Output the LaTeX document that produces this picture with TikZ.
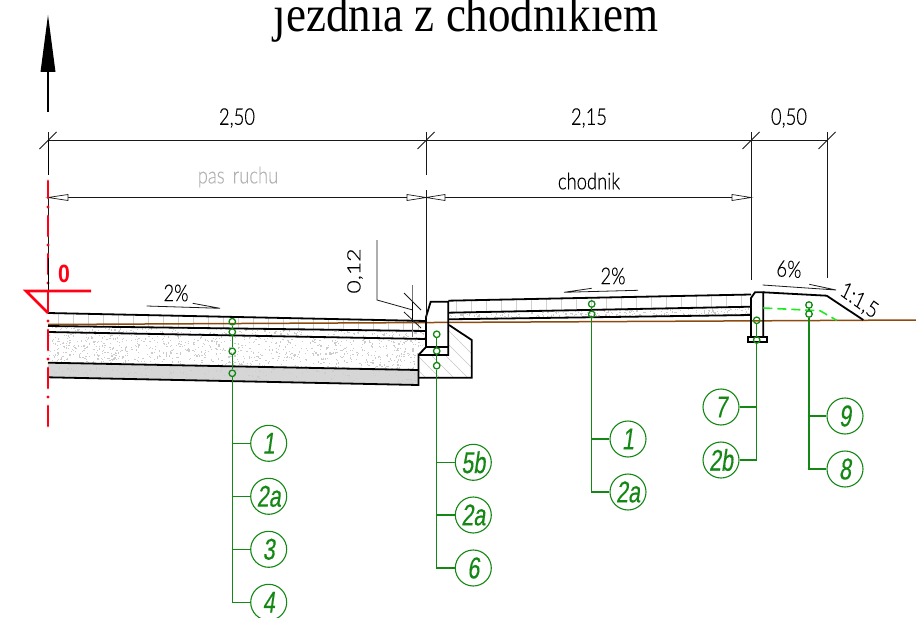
\documentclass[tikz,border=0pt]{standalone}
\usepackage{fontspec}
\setmainfont{Liberation Sans}
\newfontfamily\titlefont{Liberation Serif}
\newfontfamily\thinfont[FakeBold=0.35]{Lato Light}
\newfontfamily\balloonfont[FakeBold=0.4,FakeSlant=0.2]{Liberation Sans}
\usetikzlibrary{arrows.meta}
\definecolor{grn}{RGB}{20,135,20}
\definecolor{brn}{RGB}{140,75,15}
\definecolor{redc}{RGB}{255,0,20}
\definecolor{brgrn}{RGB}{30,235,30}
\tikzset{
  thick line/.style={draw=black,line width=1.8pt},
  thin line/.style={draw=black!90,line width=.8pt},
  dimtext/.style={font=\thinfont\fontsize{23}{23}\selectfont,inner sep=0pt,xscale=.8,text=black},
  leader/.style={draw=grn,line width=1.3pt},
  pin/.style={circle,draw=grn,line width=1.3pt,minimum size=6.5pt,inner sep=0pt},
  balloon/.style={circle,draw=grn,line width=1.1pt,minimum size=36pt,inner sep=0pt,text=grn,font=\balloonfont\fontsize{30}{30}\selectfont},
  openhead/.style={draw=black!90,line width=.7pt,fill=white}
}
\newcommand{\bt}[1]{\scalebox{.72}[1]{#1}}
\newcommand{\speckle}[5]{% xmin ymin w h count
  \foreach \i in {1,...,#5}{
    \pgfmathsetmacro{\px}{#1+rnd*#3}\pgfmathsetmacro{\py}{#2+rnd*#4}
    \fill[black!20] (\px,\py) rectangle +(1.2,1.2);
  }}
\begin{document}
\begin{tikzpicture}[x=1pt,y=-1pt]
\useasboundingbox (0,0) rectangle (916,618);
\pgfmathsetseed{4242}
% title
\node[anchor=base,inner sep=0pt,yscale=1.13,font=\titlefont\fontsize{45}{45}\selectfont] (title) at (466,32) {jezdnia z chodnikiem};
\foreach \x in {273,371,556,591}{\fill[white] (\x,-1) rectangle (\x+13.5,6.5);}
% road fills
\fill[black!16] (48,362.7) -- (418,370) -- (418,385) -- (48,377.3) -- cycle;
\begin{scope}
  \clip (48,326) -- (426,331) -- (426,339) -- (418,355) -- (418,370) -- (48,362.7) -- cycle;
  \speckle{48}{326}{378}{45}{1300}
\end{scope}
\begin{scope}
  \clip (48,362.7) -- (418,370) -- (418,385) -- (48,377.3) -- cycle;
  \speckle{48}{362}{370}{24}{250}
\end{scope}
\begin{scope}
  \clip (48,313) -- (426,321) -- (426,331) -- (48,326) -- cycle;
  \foreach \x in {58,73,...,426}{\draw[black!18,line width=.5pt] (\x,310) -- (\x,332);}
\end{scope}
% sidewalk fills
\begin{scope}
  \clip (449,300.7) -- (751,294.5) -- (751,306.7) -- (449,312.7) -- cycle;
  \foreach \x in {456,471,...,751}{\draw[black!18,line width=.5pt] (\x,290) -- (\x,315);}
\end{scope}
\begin{scope}
  \clip (449,312.7) -- (751,306.7) -- (751,315) -- (449,319.3) -- cycle;
  \speckle{449}{306}{302}{14}{500}
\end{scope}
% hatch under kerb
\begin{scope}
  \clip (418,355) -- (448,355) -- (449,325) -- (471.7,340) -- (471.7,377.7) -- (418,377.7) -- cycle;
  \foreach \x in {340,354,...,480}{\draw[black!22,line width=.5pt] (\x,320) -- +(70,70);}
\end{scope}
% ground line
\draw[brn,line width=1.5pt] (48,324.5) -- (916,320);
% road lines
\draw[thick line] (48,313) -- (426,321);
\draw[thick line] (48,326) -- (426,331);
\draw[thick line] (48,332) -- (426,339);
\draw[thick line] (48,362.7) -- (418,370);
\draw[thick line] (48,377.3) -- (418.5,385) -- (418.5,355) -- (426,347);
% kerb
\draw[thick line,line join=miter] (426,347) -- (426,317) -- (430.7,301.7) -- (448.3,301.7) -- (448.3,355) -- (418.5,355);
\draw[thick line] (426,347) -- (448.3,347);
\draw[thick line,line join=miter] (449,325) -- (471.7,340) -- (471.7,377.7) -- (418.5,377.7);
% sidewalk lines
\draw[thick line] (448.3,300.7) -- (751,294.5);
\draw[thick line] (448.3,312.7) -- (751,306.7);
\draw[thick line] (448.3,319.3) -- (751,315);
% edge kerb and verge
\draw[thick line] (751,337) -- (751,298) -- (755,292.3) -- (763.3,292.3) -- (763.3,337);
\draw[thick line] (747.7,337) rectangle (766.7,342.3);
\draw[thick line] (763.3,292.3) -- (826.7,295.7) -- (863.3,320);
\draw[brgrn,line width=1.6pt,dash pattern=on 9pt off 5pt] (763.3,308) -- (820,310.7) -- (836.7,320.3);
% dimensions
\draw[thin line] (48,140.5) -- (827,140.5);
\draw[thin line] (48,197.5) -- (751,197.5);
\foreach \x in {48,426,751,827}{\draw[thin line] (\x-8.5,149) -- (\x+8.5,132);}
\draw[thin line] (48,132) -- (48,175);
\draw[thin line] (426,132) -- (426,175);
\draw[thin line] (426,190) -- (426,318);
\draw[thin line] (751,132) -- (751,280);
\draw[thin line] (827,132) -- (827,278);
\draw[thin line] (48,190) -- (48,303);
\path[openhead,draw] (48,197.5) -- (68,194.5) -- (68,200.5) -- cycle;
\path[openhead,draw] (426,197.5) -- (407,194.5) -- (407,200.5) -- cycle;
\path[openhead,draw] (426,197.5) -- (445,194.5) -- (445,200.5) -- cycle;
\path[openhead,draw] (751,197.5) -- (732,194.5) -- (732,200.5) -- cycle;
\node[dimtext] (d250) at (237,118) {2,50};
\node[dimtext] (d215) at (589,118) {2,15};
\node[dimtext] (d050) at (789,118) {0,50};
\node[dimtext,text=black!30] (pas) at (238,177) {pas\, ruchu};
\node[dimtext] (chod) at (589,181) {chodnik};
% 0,12
\node[dimtext,rotate=90] (d012) at (355,271) {0,12};
\draw[thin line] (377,240) -- (377,300) -- (412.7,310);
\draw[black!55,line width=1pt] (412.7,285) -- (412.7,336.7);
\draw[black,line width=1.2pt] (412.7,302) -- (412.7,322);
\draw[thin line] (404,293) -- (421,310);
\draw[thin line] (404,312) -- (421,328);
% slopes
\node[dimtext] (s1) at (176,293) {2\%};
\draw[thin line] (146.7,306) -- (220,308.3) -- (192.7,303.3);
\node[dimtext] (s2) at (613,276) {2\%};
\draw[thin line] (638,290.3) -- (564,292.3) -- (591.7,288.3);
\node[dimtext,rotate=-3] (s3) at (789,269) {6\%};
\draw[thin line] (762.7,285) -- (836,290) -- (809.3,284.3);
\node[dimtext,rotate=-30] (s4) at (859,301) {1:1,5};
% north arrow
\draw[black,line width=1.6pt] (48,112) -- (48,72);
\fill[black] (48,15) -- (55.5,72) -- (40.5,72) -- cycle;
% red axis
\draw[black,line width=.8pt] (48,140) -- (48,175);
\draw[redc,line width=2.8pt,line cap=round] (48,181) -- (48,198);
\foreach \y in {216,254,292,330,368,406}{\draw[redc,line width=2.8pt,line cap=round] (48,\y) -- (48,\y+20);}
\foreach \y in {207,245,283,321,359,397}{\fill[redc] (48,\y) circle (1.7pt);}
\draw[black,line width=.8pt] (48,258) -- (48,303);
\draw[redc,line width=2.8pt,line join=miter] (91,291) -- (26,291) -- (48,313);
\draw[redc,line width=2.4pt] (48,291) -- (48,313);
\node[inner sep=0pt,text=redc,font=\bfseries\fontsize{25}{25}\selectfont,xscale=.85] (lev) at (64,274) {0};
% callouts 1
\node[pin] (p1a) at (232.3,321.7) {};
\node[pin] (p1b) at (232.3,332) {};
\node[pin] (p1c) at (232.3,351.3) {};
\node[pin] (p1d) at (232.3,373.3) {};
\node[balloon] (b1a) at (268.7,443.3) {\bt{1}};
\node[balloon] (b1b) at (268.7,496.3) {\bt{2a}};
\node[balloon] (b1c) at (268.7,549.3) {\bt{3}};
\node[balloon] (b1d) at (268.7,602.3) {\bt{4}};
\coordinate (j1a) at (232.3,443.3);\coordinate (j1b) at (232.3,496.3);\coordinate (j1c) at (232.3,549.3);\coordinate (j1d) at (232.3,602.3);
\draw[leader] (p1a) -- (p1b) -- (p1c) -- (p1d) -- (j1d) -- (b1d);
\draw[leader] (j1a) -- (b1a);\draw[leader] (j1b) -- (b1b);\draw[leader] (j1c) -- (b1c);
% callouts 2
\node[pin] (p2a) at (436.7,334.3) {};
\node[pin] (p2b) at (436.7,351) {};
\node[pin] (p2c) at (436.7,365.7) {};
\node[balloon] (b2a) at (473.3,462.3) {\bt{5b}};
\node[balloon] (b2b) at (473.3,515) {\bt{2a}};
\node[balloon] (b2c) at (473.3,568) {\bt{6}};
\coordinate (j2a) at (436.7,462.3);\coordinate (j2b) at (436.7,515);\coordinate (j2c) at (436.7,568);
\draw[leader] (p2a) -- (p2b) -- (p2c) -- (j2c) -- (b2c);
\draw[leader] (j2a) -- (b2a);\draw[leader] (j2b) -- (b2b);
% callouts 3
\node[pin] (p3a) at (591.7,304) {};
\node[pin] (p3b) at (591.7,314.3) {};
\node[balloon] (b3a) at (628,439) {\bt{1}};
\node[balloon] (b3b) at (628,492) {\bt{2a}};
\coordinate (j3a) at (591.7,439);\coordinate (j3b) at (591.7,492);
\draw[leader] (p3a) -- (p3b) -- (j3b) -- (b3b);
\draw[leader] (j3a) -- (b3a);
% callouts 4
\node[pin] (p4a) at (756.7,320.3) {};
\node[pin] (p4b) at (756.7,340) {};
\node[balloon] (b4a) at (721,407) {\bt{7}};
\node[balloon] (b4b) at (721,460) {\bt{2b}};
\coordinate (j4a) at (756.7,407);\coordinate (j4b) at (756.7,460);
\draw[leader] (p4a) -- (p4b) -- (j4b) -- (b4b);
\draw[leader] (j4a) -- (b4a);
% callouts 5
\node[pin] (p5a) at (809,305) {};
\node[pin] (p5b) at (809,314) {};
\node[balloon] (b5a) at (845,416) {\bt{9}};
\node[balloon] (b5b) at (845,469) {\bt{8}};
\coordinate (j5a) at (809,416);\coordinate (j5b) at (809,469);
\draw[leader] (p5a) -- (p5b) -- (j5b) -- (b5b);
\draw[leader] (j5a) -- (b5a);
\end{tikzpicture}
\end{document}
